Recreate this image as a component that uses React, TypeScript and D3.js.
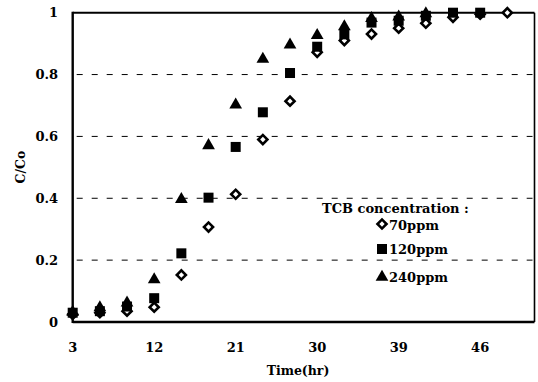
import React from "react";
import * as d3 from "d3";

const times = [3, 6, 9, 12, 15, 18, 21, 24, 27, 30, 33, 36, 39, 42, 45, 48, 51];
const c70 = [0.025, 0.03, 0.035, 0.048, 0.152, 0.307, 0.413, 0.59, 0.714, 0.872, 0.91, 0.931, 0.95, 0.966, 0.985, 0.995, 1.0];
const c120 = [0.03, 0.035, 0.05, 0.077, 0.222, 0.402, 0.566, 0.678, 0.805, 0.89, 0.93, 0.968, 0.974, 0.99, 1.0, 1.0];
const c240 = [0.035, 0.05, 0.065, 0.14, 0.4, 0.574, 0.705, 0.853, 0.899, 0.93, 0.958, 0.985, 0.99, 1.0];

const xTickValues = [3, 12, 21, 30, 39, 48];
const xTickLabels = ["3", "12", "21", "30", "39", "46"];
const yTickValues = [0, 0.2, 0.4, 0.6, 0.8, 1];
const yTickLabels = ["0", "0.2", "0.4", "0.6", "0.8", "1"];
const gridValues = [0.2, 0.4, 0.6, 0.8];

const legendTitle = "TCB concentration :";
const seriesNames = ["70ppm", "120ppm", "240ppm"];

const W = 538;
const H = 382;
const FONT = "'DejaVu Serif', 'Liberation Serif', serif";

export default function App() {
  const x = d3.scaleLinear().domain([3, 54]).range([72.7, 534.5]);
  const y = d3.scaleLinear().domain([0, 1]).range([322, 12.7]);

  const triPath = d3.symbol().type(d3.symbolTriangle).size(70)() as string;

  const diamond = (cx: number, cy: number, key: string | number) => (
    <rect
      key={key}
      x={-3.2}
      y={-3.2}
      width={6.4}
      height={6.4}
      transform={`translate(${cx},${cy}) rotate(45)`}
      fill="#fff"
      stroke="#000"
      strokeWidth={2.6}
    />
  );
  const square = (cx: number, cy: number, key: string | number) => (
    <rect key={key} x={cx - 5} y={cy - 5} width={10} height={10} fill="#000" />
  );
  const triangle = (cx: number, cy: number, key: string | number) => (
    <path key={key} d={triPath} transform={`translate(${cx},${cy + 1})`} fill="#000" />
  );

  const x0 = x(3);
  const x1 = x(54);
  const y0 = y(0);
  const y1 = y(1);

  return (
    <svg
      width={W}
      height={H}
      style={{ position: "absolute", left: 0, top: 0, background: "#fff" }}
      fontFamily={FONT}
    >
      <rect x={0} y={0} width={W} height={H} fill="#fff" />
      {/* grid lines */}
      {gridValues.map((v) => (
        <line
          key={v}
          x1={x0 + 4}
          x2={x1 - 2}
          y1={y(v)}
          y2={y(v)}
          stroke="#000"
          strokeWidth={1}
          strokeDasharray="6,9"
        />
      ))}
      {/* frame */}
      <line x1={x0} x2={x0} y1={y1 - 1} y2={y0 + 1} stroke="#000" strokeWidth={2.4} />
      <line x1={x0} x2={x1} y1={y0} y2={y0} stroke="#000" strokeWidth={2.4} />
      <line x1={x0} x2={x1} y1={y1} y2={y1} stroke="#000" strokeWidth={2} />
      <line x1={x1} x2={x1} y1={y1} y2={y0} stroke="#000" strokeWidth={1.6} />

      {/* y ticks */}
      {yTickValues.map((v, i) => (
        <text
          key={v}
          x={58}
          y={y(v)}
          dy="0.35em"
          textAnchor="end"
          fontSize={13}
          fontWeight="bold"
        >
          {yTickLabels[i]}
        </text>
      ))}
      {/* x ticks */}
      {xTickValues.map((v, i) => (
        <text
          key={v}
          x={x(v)}
          y={352}
          textAnchor="middle"
          fontSize={13}
          fontWeight="bold"
        >
          {xTickLabels[i]}
        </text>
      ))}
      <text x={298} y={375} textAnchor="middle" fontSize={12.5} fontWeight="bold">
        Time(hr)
      </text>
      <text
        transform="translate(25,167) rotate(-90)"
        textAnchor="middle"
        fontSize={12.5}
        fontWeight="bold"
      >
        C/Co
      </text>

      {/* data */}
      {c70.map((v, i) => diamond(x(times[i]), y(v), "d" + i))}
      {c120.map((v, i) => square(x(times[i]), y(v), "s" + i))}
      {c240.map((v, i) => triangle(x(times[i]), y(v), "t" + i))}

      {/* legend */}
      <text x={322} y={213} fontSize={13} fontWeight="bold">
        {legendTitle}
      </text>
      {diamond(382, 224, "ld")}
      <text x={389} y={229.5} fontSize={13} fontWeight="bold">
        {seriesNames[0]}
      </text>
      {square(382, 249, "ls")}
      <text x={389} y={254} fontSize={13} fontWeight="bold">
        {seriesNames[1]}
      </text>
      {triangle(382, 276, "lt")}
      <text x={389} y={282} fontSize={13} fontWeight="bold">
        {seriesNames[2]}
      </text>
    </svg>
  );
}
